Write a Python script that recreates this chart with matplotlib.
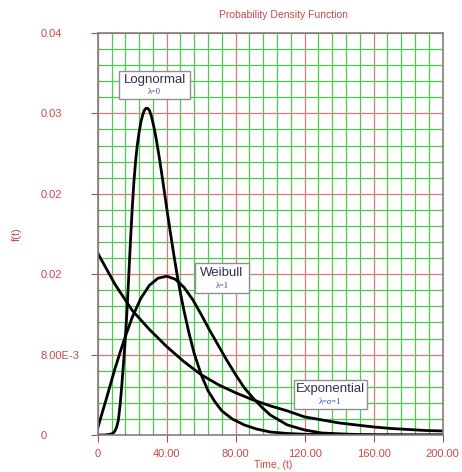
# PDF plot of three life distributions
import matplotlib.pyplot as plt
from matplotlib.patches import Rectangle

plt.rcParams['font.family'] = ['Liberation Sans', 'DejaVu Sans']

# curve values
t_logn = [0, 4, 6, 8, 9, 10, 11, 12, 13, 14, 15, 16, 17, 18, 19, 20, 21, 22, 23, 24, 25,
          26, 27, 28, 29, 30, 31, 32, 33, 34, 36, 38, 40, 42, 44, 46, 48, 50, 53, 56,
          60, 64, 68, 72, 78, 85, 92, 100, 110, 120, 135, 150, 175, 200]
f_logn = [0, 0, 0.00005, 0.0001, 0.0002, 0.0004, 0.0008, 0.0015, 0.0030, 0.0050, 0.0072,
          0.0096, 0.0124, 0.0158, 0.0193, 0.0225, 0.0252, 0.0273, 0.0289, 0.0301, 0.0311,
          0.0318, 0.0323, 0.0325, 0.0325, 0.0323, 0.0318, 0.0311, 0.0303, 0.0294, 0.0273,
          0.0250, 0.0226, 0.0203, 0.0181, 0.0160, 0.0141, 0.0124, 0.0101, 0.0081,
          0.0060, 0.0044, 0.0033, 0.0024, 0.0016, 0.0010, 0.0006, 0.0003, 0.00015,
          0.00007, 0.00003, 0.00001, 0, 0]

t_weib = [0, 5, 10, 15, 20, 25, 30, 35, 40, 45, 50, 55, 60, 65, 70, 75, 80, 85, 90, 95,
          100, 110, 120, 130, 145, 160, 180, 200]
f_weib = [0.0007, 0.0036, 0.0066, 0.0093, 0.0117, 0.0136, 0.0149, 0.0156, 0.0158, 0.0155,
          0.0147, 0.0135, 0.0120, 0.0104, 0.0089, 0.0074, 0.0060, 0.0047, 0.0037, 0.0028,
          0.0020, 0.0010, 0.0005, 0.0002, 0.00008, 0.00002, 0, 0]

t_expo = [0, 10, 20, 30, 40, 50, 60, 70, 80, 90, 100, 110, 120, 130, 140, 150, 160, 170,
          180, 190, 200]
f_expo = [0.0181, 0.0150, 0.0124, 0.0105, 0.0088, 0.0073, 0.0060, 0.0050, 0.0042, 0.0035,
          0.0029, 0.0024, 0.0018, 0.0015, 0.0012, 0.0010, 0.0008, 0.00065, 0.00055,
          0.00045, 0.0004]

xticks = [0, 40, 80, 120, 160, 200]
xlabels = ['0', '40.00', '80.00', '120.00', '160.00', '200.00']
yticks = [0, 0.008, 0.016, 0.024, 0.032, 0.04]
ylabels = ['0', '8.00E-3', '0.02', '0.02', '0.03', '0.04']

red = '#c84848'
fig = plt.figure(figsize=(4.62, 4.72), dpi=100)
ax = fig.add_axes([0.2115, 0.0784, 0.7463, 0.8517])

ax.set_xlim(0, 200)
ax.set_ylim(0, 0.04)
ax.set_xticks(xticks)
ax.set_xticklabels(xlabels)
ax.set_yticks(yticks)
ax.set_yticklabels(ylabels)
ax.set_xticks(range(0, 201, 8), minor=True)
ax.set_yticks([i * 0.0016 for i in range(26)], minor=True)

# grid: green minor, red major
ax.grid(which='minor', color='#4ccc4c', lw=0.9)
ax.grid(which='major', color='#e07878', lw=0.9)
ax.set_axisbelow(True)

for s in ax.spines.values():
    s.set_color('#808080')
    s.set_linewidth(1.2)

ax.tick_params(which='major', direction='out', length=5, color='#a05050',
               labelcolor=red, labelsize=8)
ax.tick_params(which='minor', direction='in', length=2, color='#808080')
ax.tick_params(axis='y', which='major', pad=36)
for lab in ax.get_yticklabels():
    lab.set_horizontalalignment('left')
ax.tick_params(axis='x', which='major', pad=5)

ax.plot(t_logn, f_logn, color='black', lw=2)
ax.plot(t_weib, f_weib, color='black', lw=2)
ax.plot(t_expo, f_expo, color='black', lw=2)

fig.text(0.613, 0.969, 'Probability Density Function', color=red, fontsize=7.5,
         ha='center', va='center')
ax.set_xlabel('Time, (t)', color=red, fontsize=7.5, va='center')
ax.xaxis.set_label_coords(0.508, -0.075)
ax.set_ylabel('f(t)', color=red, fontsize=8, va='center')
ax.yaxis.set_label_coords(-0.234, 0.5)

# label boxes (x0, y0, x1, y1 in data units)
boxes = [((12.4, 0.0334, 53.6, 0.0362), 'Lognormal', '\u03bb=0'),
         ((56.4, 0.0141, 87.7, 0.0171), 'Weibull', '\u03bb=1'),
         ((113.8, 0.0026, 156.1, 0.0055), 'Exponential', '\u03bb=\u03c3=1')]
for (x0, y0, x1, y1), name, sub in boxes:
    ax.add_patch(Rectangle((x0, y0), x1 - x0, y1 - y0, facecolor='white',
                           edgecolor='#909090', lw=1, zorder=5))
    xc = (x0 + x1) / 2
    ax.text(xc, y1 - (y1 - y0) * 0.33, name, ha='center', va='center',
            fontsize=9.5, color='#303050', zorder=6)
    ax.text(xc, y0 + (y1 - y0) * 0.25, sub, ha='center', va='center',
            fontsize=6, family='Liberation Serif', color='#3040a0', zorder=6)

fig.savefig('out.png', dpi=100)
